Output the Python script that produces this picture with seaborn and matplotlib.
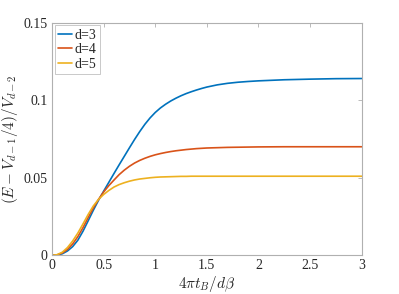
import numpy as np
import pandas as pd
import matplotlib
matplotlib.use("Agg")
import matplotlib.pyplot as plt
from matplotlib.ticker import FuncFormatter
import seaborn as sns

# values
x_vals = [0.00, 0.05, 0.10, 0.15, 0.20, 0.25, 0.30, 0.35, 0.40, 0.45,
          0.50, 0.55, 0.60, 0.65, 0.70, 0.75, 0.80, 0.85, 0.90, 0.95,
          1.00, 1.05, 1.10, 1.15, 1.20, 1.25, 1.30, 1.35, 1.40, 1.45,
          1.50, 1.60, 1.70, 1.80, 1.90, 2.00, 2.25, 2.50, 2.75, 3.00]
d3 = [0.0, 0.0002, 0.0010, 0.0028, 0.0056, 0.0097, 0.0155, 0.0222, 0.0290, 0.0354,
      0.0413, 0.0470, 0.0527, 0.0583, 0.0638, 0.0693, 0.0747, 0.0798, 0.0845, 0.0886,
      0.0921, 0.0950, 0.0974, 0.0995, 0.1013, 0.1029, 0.1043, 0.1055, 0.1066, 0.1076,
      0.1085, 0.1099, 0.1109, 0.1116, 0.1121, 0.1125, 0.1132, 0.1136, 0.1139, 0.1140]
d4 = [0.0, 0.0003, 0.0015, 0.0038, 0.0073, 0.0120, 0.0178, 0.0243, 0.0305, 0.0360,
      0.0408, 0.0449, 0.0485, 0.0520, 0.0549, 0.0574, 0.0595, 0.0612, 0.0626, 0.0638,
      0.0648, 0.0656, 0.0663, 0.0669, 0.0674, 0.0678, 0.0682, 0.0685, 0.0688, 0.0690,
      0.0692, 0.0694, 0.0696, 0.0697, 0.0698, 0.0699, 0.0700, 0.0700, 0.0700, 0.0700]
d5 = [0.0, 0.0004, 0.0020, 0.0050, 0.0092, 0.0143, 0.0202, 0.0263, 0.0318, 0.0360,
      0.0392, 0.0418, 0.0440, 0.0456, 0.0468, 0.0478, 0.0486, 0.0492, 0.0496, 0.0500,
      0.0503, 0.0505, 0.0506, 0.0507, 0.0508, 0.0509, 0.0509, 0.0510, 0.0510, 0.0510,
      0.0510, 0.0510, 0.0510, 0.0510, 0.0510, 0.0510, 0.0510, 0.0510, 0.0510, 0.0510]
labels = ["d=3", "d=4", "d=5"]
colors = ["#0072BD", "#D95319", "#EDB120"]

df = pd.concat([pd.DataFrame({"x": x_vals, "y": y, "d": lab})
                for y, lab in zip([d3, d4, d5], labels)])

sns.set_style("white")
plt.rcParams["font.family"] = ["Liberation Serif", "DejaVu Serif"]
plt.rcParams["mathtext.fontset"] = "cm"

fig = plt.figure(figsize=(3.99, 2.94), dpi=100)
ax = fig.add_axes([0.1303, 0.1316, 0.7762, 0.7912])

sns.lineplot(data=df, x="x", y="y", hue="d", palette=colors, linewidth=1.2, ax=ax)

ax.set_xlim(0, 3)
ax.set_ylim(0, 0.15)
ax.set_xticks([0, 0.5, 1, 1.5, 2, 2.5, 3])
ax.set_yticks([0, 0.05, 0.1, 0.15])
fmt = FuncFormatter(lambda v, p: "%g" % v)
ax.xaxis.set_major_formatter(fmt)
ax.yaxis.set_major_formatter(fmt)
ax.tick_params(direction="in", length=3, width=0.6, color="#b0b0b0",
               labelsize=10, labelcolor="#262626", top=True, right=True, pad=3)
for s in ax.spines.values():
    s.set_color("#b0b0b0")
    s.set_linewidth(0.8)

ax.set_xlabel(r"$4\pi t_B/d\beta$", fontsize=11, color="#262626", labelpad=1)
ax.set_ylabel(r"$(E-V_{d-1}/4)/V_{d-2}$", fontsize=11, color="#262626", labelpad=3)

leg = ax.legend(loc="upper left", fontsize=10, frameon=True, fancybox=False,
                handlelength=1.0, handletextpad=0.15, borderpad=0.25,
                labelspacing=0.1, borderaxespad=0.2)
leg.get_frame().set_edgecolor("#b0b0b0")
leg.get_frame().set_linewidth(0.6)

fig.savefig("out.png", dpi=100)
